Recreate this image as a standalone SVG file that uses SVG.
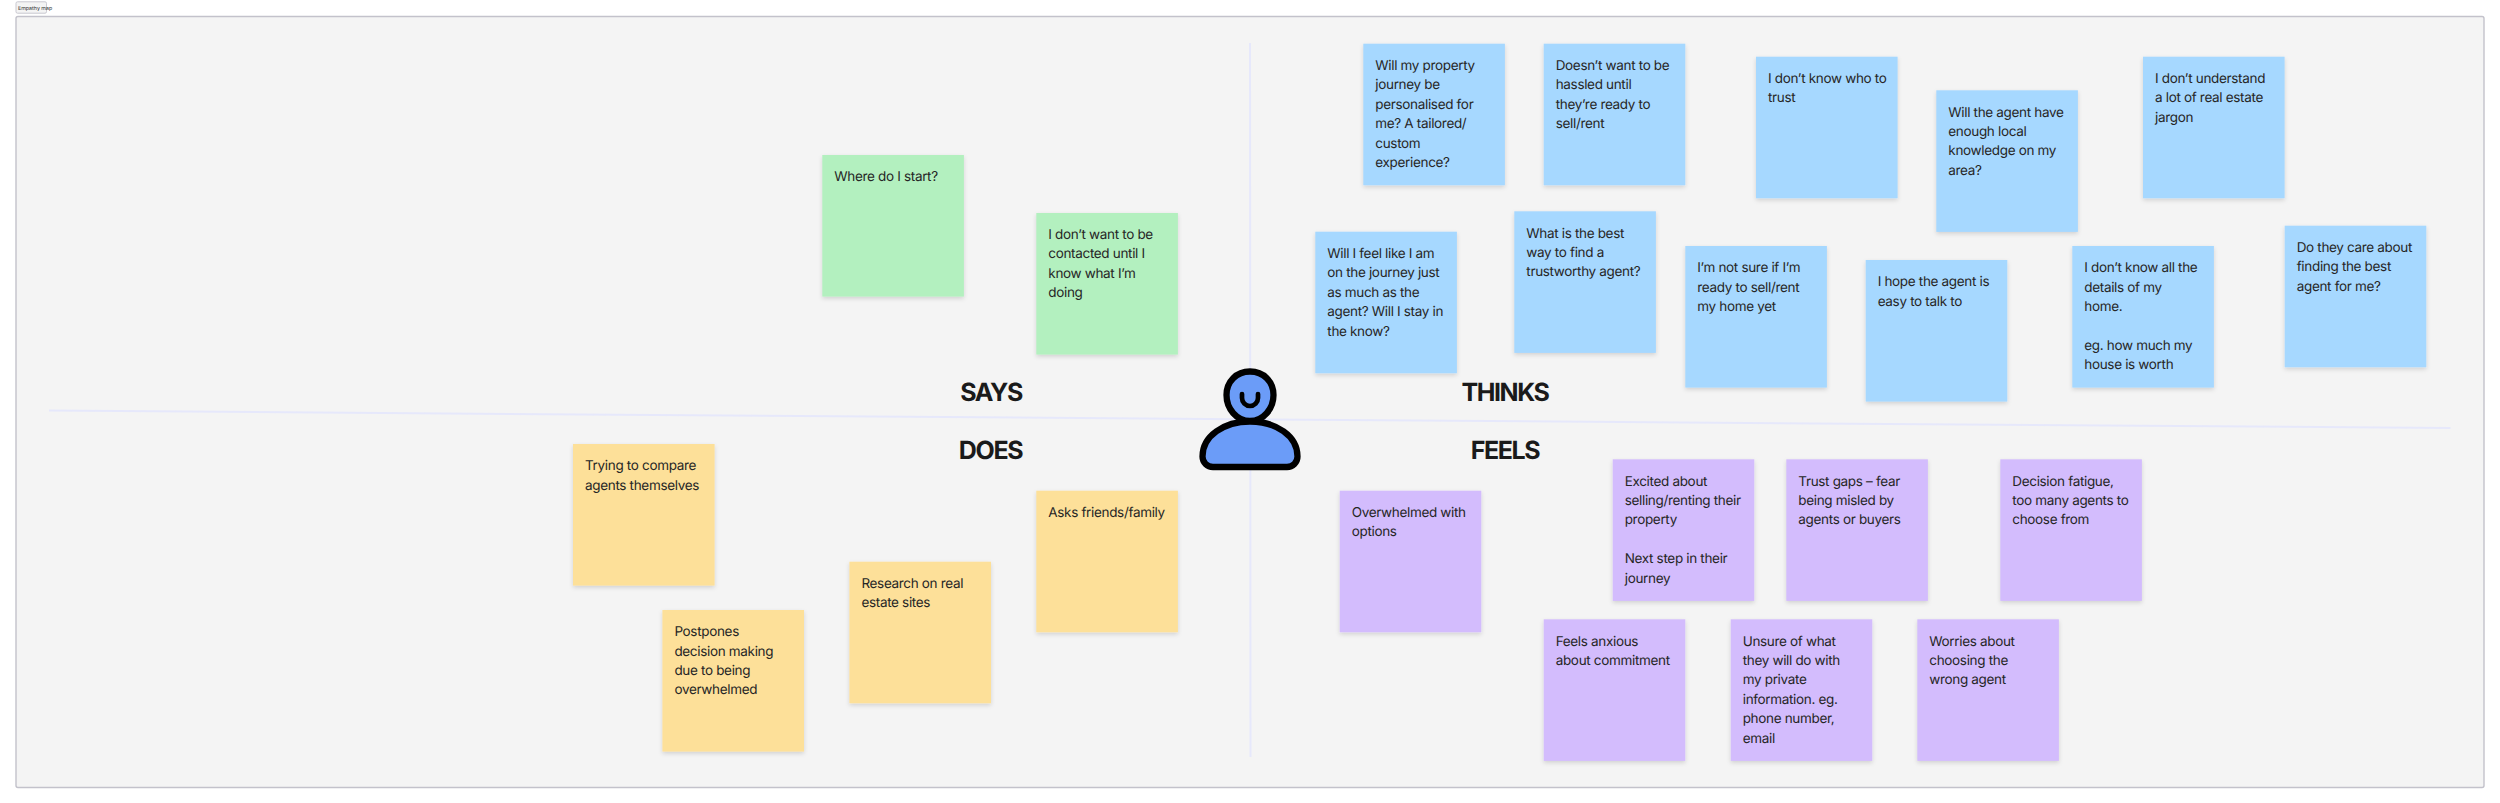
<svg xmlns="http://www.w3.org/2000/svg" width="2500" height="803" viewBox="0 0 2500 803">
<style>
text{font-family:Inter,"Noto Sans","Liberation Sans",sans-serif;text-rendering:geometricPrecision}
.n{font-size:13.5px;letter-spacing:-.33px;fill:#262626}
.t{font-size:25px;letter-spacing:-1.4px;font-weight:700;fill:#1a1a1a;text-anchor:middle}
.s{filter:url(#sh)}
.g{fill:#b3f0bf}.b{fill:#a6d8ff}.y{fill:#fde099}.p{fill:#d3bcfd}
.ax{stroke:#e6e8fb;stroke-width:2;fill:none}
.ic{stroke:#000;stroke-width:6.3;fill:#6b9cf8;stroke-linejoin:round}
</style>
<defs><filter id="sh" x="-10%" y="-10%" width="120%" height="120%"><feDropShadow dx="0" dy="2" stdDeviation="2" flood-color="#000" flood-opacity=".14"/></filter></defs>
<rect width="2500" height="803" fill="#fff"/>
<g id="frame">
<rect x="16" y="16.5" width="2468" height="771" rx="2" fill="#f4f4f4" stroke="#c3c2cb" stroke-width="1.4"/>
<rect x="16" y="1.8" width="30.5" height="11.4" rx="1.5" fill="#f4f4f4" stroke="#c9c8d0" stroke-width="1"/>
<text x="18" y="9.6" font-size="5.3" fill="#333">Empathy map</text>
</g>
<g id="connectors">
<line class="ax" x1="49" y1="410.6" x2="2450.5" y2="428"/>
<line class="ax" x1="1250" y1="43" x2="1250.5" y2="757"/>
</g>
<g id="titles">
<text class="t" x="991" y="401">SAYS</text>
<text class="t" x="1505" y="401">THINKS</text>
<text class="t" x="990.5" y="459">DOES</text>
<text class="t" x="1505" y="459">FEELS</text>
</g>
<g id="person">
<path class="ic" d="M1250 371.5c13.500 0 23.500 10 23.500 23.500c0 13.500 -10 26 -23.500 26c-13.500 0 -23.500 -12.500 -23.500 -26c0 -13.500 10 -23.500 23.500 -23.500z"/>
<path class="ic" d="M1213 467a10.500 10.500 0 0 1 -10.500 -10.500C1202.500 436 1224 421.500 1250 421.500C1276 421.500 1297.500 436 1297.500 456.500a10.500 10.500 0 0 1 -10.500 10.500Z"/>
<path d="M1242 394v4a8 8 0 0 0 16 0v-4" fill="none" stroke="#000" stroke-width="4.700" stroke-linecap="round"/>
</g>
<g id="n1"><rect class="s g" x="822.300" y="155" width="141.600" height="141.600"/><text class="n" y="181"><tspan x="834.300">Where do I start?</tspan></text></g>
<g id="n2"><rect class="s g" x="1036.300" y="213" width="141.600" height="141.600"/><text class="n" y="239"><tspan x="1048.300">I don’t want to be</tspan><tspan x="1048.300" dy="19.400">contacted until I</tspan><tspan x="1048.300" dy="19.400">know what I’m</tspan><tspan x="1048.300" dy="19.400">doing</tspan></text></g>
<g id="n3"><rect class="s b" x="1363.300" y="43.700" width="141.600" height="141.600"/><text class="n" y="70"><tspan x="1375.300">Will my property</tspan><tspan x="1375.300" dy="19.400">journey be</tspan><tspan x="1375.300" dy="19.400">personalised for</tspan><tspan x="1375.300" dy="19.400">me? A tailored/</tspan><tspan x="1375.300" dy="19.400">custom</tspan><tspan x="1375.300" dy="19.400">experience?</tspan></text></g>
<g id="n4"><rect class="s b" x="1543.700" y="43.700" width="141.600" height="141.600"/><text class="n" y="70"><tspan x="1555.700">Doesn’t want to be</tspan><tspan x="1555.700" dy="19.400">hassled until</tspan><tspan x="1555.700" dy="19.400">they’re ready to</tspan><tspan x="1555.700" dy="19.400">sell/rent</tspan></text></g>
<g id="n5"><rect class="s b" x="1756" y="56.700" width="141.600" height="141.600"/><text class="n" y="83"><tspan x="1768">I don’t know who to</tspan><tspan x="1768" dy="19.400">trust</tspan></text></g>
<g id="n6"><rect class="s b" x="1936.300" y="90.300" width="141.600" height="141.600"/><text class="n" y="116.500"><tspan x="1948.300">Will the agent have</tspan><tspan x="1948.300" dy="19.400">enough local</tspan><tspan x="1948.300" dy="19.400">knowledge on my</tspan><tspan x="1948.300" dy="19.400">area?</tspan></text></g>
<g id="n7"><rect class="s b" x="2143" y="56.700" width="141.600" height="141.600"/><text class="n" y="83"><tspan x="2155">I don’t understand</tspan><tspan x="2155" dy="19.400">a lot of real estate</tspan><tspan x="2155" dy="19.400">jargon</tspan></text></g>
<g id="n8"><rect class="s b" x="1315.300" y="231.700" width="141.600" height="141.600"/><text class="n" y="258"><tspan x="1327.300">Will I feel like I am</tspan><tspan x="1327.300" dy="19.400">on the journey just</tspan><tspan x="1327.300" dy="19.400">as much as the</tspan><tspan x="1327.300" dy="19.400">agent? Will I stay in</tspan><tspan x="1327.300" dy="19.400">the know?</tspan></text></g>
<g id="n9"><rect class="s b" x="1514.300" y="211.300" width="141.600" height="141.600"/><text class="n" y="237.500"><tspan x="1526.300">What is the best</tspan><tspan x="1526.300" dy="19.400">way to find a</tspan><tspan x="1526.300" dy="19.400">trustworthy agent?</tspan></text></g>
<g id="n10"><rect class="s b" x="1685.300" y="246" width="141.600" height="141.600"/><text class="n" y="272.300"><tspan x="1697.300">I’m not sure if I’m</tspan><tspan x="1697.300" dy="19.400">ready to sell/rent</tspan><tspan x="1697.300" dy="19.400">my home yet</tspan></text></g>
<g id="n11"><rect class="s b" x="1865.700" y="260" width="141.600" height="141.600"/><text class="n" y="286.300"><tspan x="1877.700">I hope the agent is</tspan><tspan x="1877.700" dy="19.400">easy to talk to</tspan></text></g>
<g id="n12"><rect class="s b" x="2072.300" y="246" width="141.600" height="141.600"/><text class="n" y="272.300"><tspan x="2084.300">I don’t know all the</tspan><tspan x="2084.300" dy="19.400">details of my</tspan><tspan x="2084.300" dy="19.400">home.</tspan><tspan x="2084.300" dy="38.800">eg. how much my</tspan><tspan x="2084.300" dy="19.400">house is worth</tspan></text></g>
<g id="n13"><rect class="s b" x="2284.700" y="225.700" width="141.600" height="141.600"/><text class="n" y="252"><tspan x="2296.700">Do they care about</tspan><tspan x="2296.700" dy="19.400">finding the best</tspan><tspan x="2296.700" dy="19.400">agent for me?</tspan></text></g>
<g id="n14"><rect class="s y" x="573" y="444" width="141.600" height="141.600"/><text class="n" y="470.200"><tspan x="585">Trying to compare</tspan><tspan x="585" dy="19.400">agents themselves</tspan></text></g>
<g id="n15"><rect class="s y" x="662.400" y="610" width="141.600" height="141.600"/><text class="n" y="636.200"><tspan x="674.400">Postpones</tspan><tspan x="674.400" dy="19.400">decision making</tspan><tspan x="674.400" dy="19.400">due to being</tspan><tspan x="674.400" dy="19.400">overwhelmed</tspan></text></g>
<g id="n16"><rect class="s y" x="849.400" y="561.700" width="141.600" height="141.600"/><text class="n" y="588"><tspan x="861.400">Research on real</tspan><tspan x="861.400" dy="19.400">estate sites</tspan></text></g>
<g id="n17"><rect class="s y" x="1036.300" y="490.700" width="141.600" height="141.600"/><text class="n" y="517"><tspan x="1048.300">Asks friends/family</tspan></text></g>
<g id="n18"><rect class="s p" x="1339.700" y="490.700" width="141.600" height="141.600"/><text class="n" y="517"><tspan x="1351.700">Overwhelmed with</tspan><tspan x="1351.700" dy="19.400">options</tspan></text></g>
<g id="n19"><rect class="s p" x="1612.700" y="459.300" width="141.600" height="141.600"/><text class="n" y="485.600"><tspan x="1624.700">Excited about</tspan><tspan x="1624.700" dy="19.400">selling/renting their</tspan><tspan x="1624.700" dy="19.400">property</tspan><tspan x="1624.700" dy="38.800">Next step in their</tspan><tspan x="1624.700" dy="19.400">journey</tspan></text></g>
<g id="n20"><rect class="s p" x="1786.300" y="459.300" width="141.600" height="141.600"/><text class="n" y="485.600"><tspan x="1798.300">Trust gaps – fear</tspan><tspan x="1798.300" dy="19.400">being misled by</tspan><tspan x="1798.300" dy="19.400">agents or buyers</tspan></text></g>
<g id="n21"><rect class="s p" x="2000.300" y="459.300" width="141.600" height="141.600"/><text class="n" y="485.600"><tspan x="2012.300">Decision fatigue,</tspan><tspan x="2012.300" dy="19.400">too many agents to</tspan><tspan x="2012.300" dy="19.400">choose from</tspan></text></g>
<g id="n22"><rect class="s p" x="1543.700" y="619.300" width="141.600" height="141.600"/><text class="n" y="645.600"><tspan x="1555.700">Feels anxious</tspan><tspan x="1555.700" dy="19.400">about commitment</tspan></text></g>
<g id="n23"><rect class="s p" x="1730.700" y="619.300" width="141.600" height="141.600"/><text class="n" y="645.600"><tspan x="1742.700">Unsure of what</tspan><tspan x="1742.700" dy="19.400">they will do with</tspan><tspan x="1742.700" dy="19.400">my private</tspan><tspan x="1742.700" dy="19.400">information. eg.</tspan><tspan x="1742.700" dy="19.400">phone number,</tspan><tspan x="1742.700" dy="19.400">email</tspan></text></g>
<g id="n24"><rect class="s p" x="1917.300" y="619.300" width="141.600" height="141.600"/><text class="n" y="645.600"><tspan x="1929.300">Worries about</tspan><tspan x="1929.300" dy="19.400">choosing the</tspan><tspan x="1929.300" dy="19.400">wrong agent</tspan></text></g>
</svg>
